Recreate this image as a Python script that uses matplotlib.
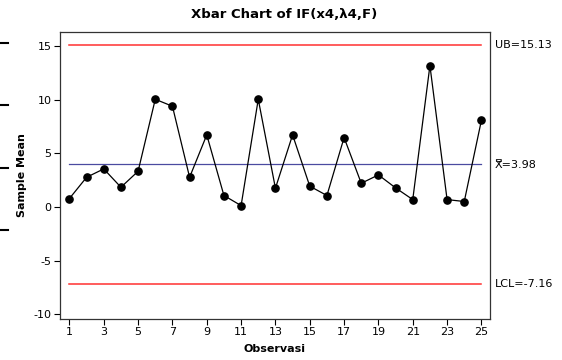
import matplotlib
matplotlib.use("Agg")
import matplotlib.pyplot as plt
from matplotlib.lines import Line2D

observations = list(range(1, 26))
sample_means = [0.78, 2.76, 3.54, 1.83, 3.32, 10.03, 9.38, 2.76, 6.71, 1.06,
                0.12, 10.03, 1.74, 6.71, 1.93, 1.06, 6.46, 2.20, 2.98, 1.77,
                0.68, 13.17, 0.68, 0.50, 8.07]
ucl = 15.13
center = 3.98
lcl = -7.16
xticks = list(range(1, 26, 2))
yticks = [-10, -5, 0, 5, 10, 15]

plt.rcParams['font.family'] = ['DejaVu Sans']
plt.rcParams['axes.unicode_minus'] = False

fig = plt.figure(figsize=(5.62, 3.6), dpi=100)
ax = fig.add_axes([60/562, 41/360, (490-60)/562, (319-32)/360])

ax.plot([observations[0], observations[-1]], [ucl, ucl], color='#ff3030', lw=1.1)
ax.plot([observations[0], observations[-1]], [lcl, lcl], color='#ff3030', lw=1.1)
ax.plot([observations[0], observations[-1]], [center, center], color='#4a4aa0', lw=0.9)
ax.plot(observations, sample_means, color='black', lw=0.9, marker='o',
        markersize=5.2, markerfacecolor='black', markeredgecolor='black')

ax.set_xlim(0.45, 25.5)
ax.set_ylim(-10.45, 16.3)
ax.set_xticks(xticks)
ax.set_yticks(yticks)
ax.tick_params(direction='out', length=4, width=0.8, labelsize=8, pad=2)
for s in ax.spines.values():
    s.set_linewidth(0.9)
    s.set_color('#333333')

ax.set_xlabel('Observasi', fontsize=8, fontweight='bold', labelpad=5)
ax.set_ylabel('Sample Mean', fontsize=8, fontweight='bold', labelpad=5)
fig.text(284/562, 1 - 14/360, 'Xbar Chart of IF(x4,\u03bb4,F)', fontsize=9.5,
         fontweight='bold', ha='center', va='center')

tr = ax.get_yaxis_transform()
ax.text(1.012, ucl, 'UB=15.13', transform=tr, fontsize=8, va='center', ha='left')
ax.text(1.012, center - 0.1, 'X\u033f=3.98', transform=tr, fontsize=8, va='center', ha='left')
ax.text(1.012, lcl, 'LCL=-7.16', transform=tr, fontsize=8, va='center', ha='left')

for yp in [42.7, 105, 167.7, 230]:
    yf = 1 - yp/360
    fig.add_artist(Line2D([0, 8/562], [yf, yf], color='black', lw=1.5, transform=fig.transFigure))

fig.savefig('out.png', dpi=100)
